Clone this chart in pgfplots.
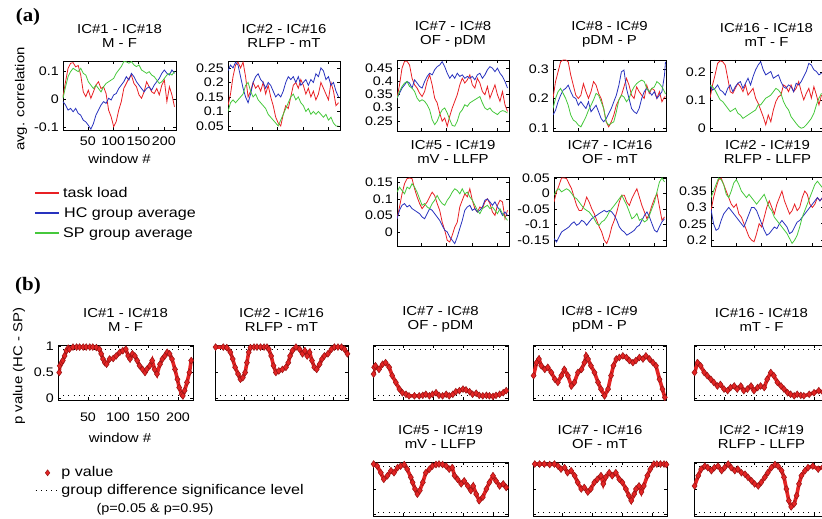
\documentclass[border=0pt]{standalone}
\usepackage{pgfplots}
\pgfplotsset{compat=1.18}
\usepackage{pgfplotstable}
\usepackage{fontspec}
\setmainfont{Liberation Sans}[FakeStretch=1.15]
\newfontfamily\serifb{Liberation Serif}[FakeStretch=1.1]
\definecolor{lr}{RGB}{232,32,36}
\definecolor{lb}{RGB}{40,50,190}
\definecolor{lg}{RGB}{70,200,60}
\definecolor{pr}{RGB}{228,36,36}
\definecolor{pe}{RGB}{150,20,20}
\newcommand\tickfont{\fontsize{12.4}{13}\selectfont}
\newcommand\titfont{\fontsize{13}{14}\selectfont}
\newcommand\legfont{\fontsize{14}{15}\selectfont}

\pgfplotsset{
  pbase/.style={scale only axis, anchor=south west,
    xtick={50,100,150,200}, xticklabels={},
    tick align=inside, tick pos=both, major tick length=3pt,
    major tick style={line width=0.6pt, black},
    axis line style={line width=0.8pt},
    ticklabel style={font=\tickfont},
    yticklabel style={inner sep=1.5pt, xshift=-2.5pt},
    xticklabel style={inner sep=1.5pt, yshift=-5pt},
    /pgf/number format/assume math mode=true,
    title style={font=\titfont, align=center, at={(0.5,1)}, anchor=south, inner sep=0pt, yshift=7pt},
    label style={font=\fontsize{13}{14}\selectfont}},
  pa/.style={pbase, xmin=1, xmax=224},
  pb/.style={pbase, xmin=0, xmax=225, ymin=-0.03, ymax=1.03, ytick={0,0.5,1}, yticklabels={}},
  pv/.style={color=pr, line width=3.6pt, mark=diamond*, mark size=3.4pt,
    mark options={solid, line width=0.5pt, draw=pe, fill=pr}},
  sig/.style={black, line width=0.7pt, dash pattern=on 0.7pt off 4.5pt},
  dlegend/.style={legend image code/.code={\path[mark=diamond*, mark size=3pt, mark options={draw=pe, fill=pr, line width=0.5pt}] plot coordinates {(12pt,0pt)};}},
  slegend/.style={legend image code/.code={\draw[black, line width=0.7pt, dash pattern=on 0.7pt off 4.5pt] (0pt,0pt) -- (24pt,0pt);}},
}

\pgfplotstableread{
w r b g
1 0.009 -0.009 0.003
6 0.062 -0.021 0.044
11 0.11 -0.039 0.08
16 0.128 -0.033 0.098
21 0.13 -0.045 0.11
26 0.115 -0.033 0.104
31 0.12 -0.051 0.098
36 0.086 -0.057 0.11
41 0.026 -0.075 0.092
46 0.009 -0.081 0.086
51 0.032 -0.093 0.062
56 0.003 -0.107 0.05
61 0.026 -0.087 0.038
66 0.05 -0.057 0.05
71 0.062 -0.039 0.038
76 0.038 -0.021 0.026
81 0.044 -0.009 0.044
86 0.02 -0.015 0.056
91 -0.039 0.003 0.062
96 -0.063 -0.003 0.068
101 -0.098 0.015 0.074
106 -0.08 0.02 0.092
111 -0.039 0.038 0.104
116 -0.009 0.05 0.116
121 0.038 0.062 0.134
126 0.056 0.08 0.133
131 0.074 0.068 0.128
136 0.086 0.092 0.134
141 0.056 0.08 0.122
146 0.044 0.062 0.116
151 0.015 0.05 0.122
156 0.003 0.038 0.104
161 0.026 0.026 0.098
166 0.062 0.038 0.092
171 0.044 0.044 0.098
176 0.026 0.032 0.086
181 0.02 0.05 0.08
186 0.038 0.062 0.068
191 0.015 0.074 0.056
196 0.05 0.092 0.062
201 0.068 0.104 0.074
206 -0.009 0.092 0.086
211 0.044 0.086 0.092
216 0.015 0.104 0.086
221 -0.027 0.092 0.098
}\tAa

\pgfplotstableread{
w r b g
1 0.12 0.24 0.10
6 0.16 0.26 0.13
11 0.22 0.25 0.14
16 0.26 0.27 0.13
21 0.27 0.26 0.14
26 0.25 0.22 0.15
31 0.27 0.18 0.16
36 0.22 0.15 0.19
41 0.15 0.13 0.20
46 0.17 0.16 0.17
51 0.20 0.20 0.15
56 0.18 0.22 0.16
61 0.19 0.23 0.14
66 0.17 0.21 0.13
71 0.20 0.20 0.12
76 0.16 0.18 0.11
81 0.19 0.20 0.09
86 0.15 0.19 0.08
91 0.12 0.17 0.07
96 0.08 0.15 0.06
101 0.06 0.16 0.05
106 0.05 0.15 0.07
111 0.09 0.17 0.09
116 0.12 0.20 0.11
121 0.11 0.22 0.13
126 0.15 0.21 0.15
131 0.19 0.22 0.16
136 0.20 0.20 0.14
141 0.18 0.22 0.15
146 0.21 0.19 0.13
151 0.19 0.20 0.12
156 0.16 0.21 0.10
161 0.18 0.19 0.11
166 0.15 0.21 0.09
171 0.17 0.20 0.10
176 0.14 0.23 0.09
181 0.16 0.22 0.10
186 0.20 0.25 0.09
191 0.18 0.24 0.08
196 0.16 0.21 0.09
201 0.14 0.22 0.07
206 0.20 0.19 0.08
211 0.17 0.20 0.06
216 0.12 0.17 0.05
221 0.13 0.15 0.05
}\tAb

\pgfplotstableread{
w r b g
1 0.336 0.336 0.336
6 0.386 0.355 0.361
11 0.449 0.374 0.380
16 0.475 0.386 0.393
21 0.475 0.399 0.399
26 0.461 0.393 0.380
31 0.411 0.374 0.374
36 0.386 0.405 0.361
41 0.374 0.393 0.336
46 0.355 0.380 0.324
51 0.342 0.374 0.330
56 0.361 0.399 0.324
61 0.399 0.418 0.311
66 0.424 0.430 0.292
71 0.386 0.424 0.255
76 0.336 0.443 0.236
81 0.318 0.455 0.249
86 0.280 0.461 0.274
91 0.249 0.474 0.292
96 0.261 0.455 0.299
101 0.230 0.430 0.280
106 0.268 0.411 0.255
111 0.299 0.424 0.233
116 0.324 0.411 0.230
121 0.349 0.430 0.249
126 0.386 0.418 0.280
131 0.411 0.424 0.292
136 0.393 0.411 0.311
141 0.405 0.418 0.305
146 0.424 0.411 0.318
151 0.386 0.418 0.324
156 0.374 0.405 0.330
161 0.411 0.424 0.336
166 0.393 0.430 0.342
171 0.361 0.411 0.318
176 0.349 0.424 0.299
181 0.380 0.443 0.292
186 0.336 0.455 0.299
191 0.361 0.449 0.286
196 0.386 0.436 0.280
201 0.349 0.449 0.274
206 0.324 0.430 0.284
211 0.361 0.418 0.289
216 0.311 0.399 0.286
221 0.286 0.374 0.280
}\tAc

\pgfplotstableread{
w r b g
1 0.200 0.144 0.166
6 0.257 0.160 0.200
11 0.290 0.189 0.223
16 0.324 0.211 0.234
21 0.330 0.228 0.217
26 0.330 0.234 0.200
31 0.324 0.245 0.177
36 0.279 0.223 0.144
41 0.245 0.205 0.127
46 0.211 0.200 0.121
51 0.200 0.177 0.110
56 0.211 0.189 0.104
61 0.250 0.177 0.121
66 0.223 0.166 0.138
71 0.200 0.189 0.160
76 0.223 0.155 0.177
81 0.257 0.166 0.195
86 0.245 0.177 0.217
91 0.217 0.155 0.211
96 0.200 0.132 0.189
101 0.166 0.121 0.166
106 0.121 0.132 0.121
111 0.104 0.149 0.110
116 0.121 0.166 0.116
121 0.144 0.189 0.121
126 0.177 0.211 0.155
131 0.195 0.245 0.195
136 0.211 0.290 0.211
141 0.239 0.296 0.205
146 0.268 0.234 0.189
151 0.245 0.200 0.200
156 0.211 0.166 0.223
161 0.200 0.155 0.239
166 0.239 0.149 0.250
171 0.223 0.166 0.257
176 0.211 0.200 0.262
181 0.200 0.223 0.257
186 0.245 0.234 0.234
191 0.217 0.223 0.223
196 0.234 0.211 0.234
201 0.228 0.223 0.239
206 0.200 0.200 0.257
211 0.223 0.211 0.250
216 0.189 0.223 0.239
221 0.205 0.279 0.223
223 0.205 0.324 0.215
}\tAd

\pgfplotstableread{
w r b g
1 0.107 0.154 0.154
6 0.154 0.136 0.148
11 0.190 0.142 0.136
16 0.231 0.154 0.118
21 0.240 0.136 0.101
26 0.237 0.130 0.095
31 0.225 0.118 0.083
36 0.178 0.142 0.071
41 0.130 0.154 0.059
46 0.124 0.130 0.065
51 0.142 0.148 0.071
56 0.160 0.160 0.053
61 0.148 0.166 0.047
66 0.130 0.142 0.035
71 0.154 0.160 0.041
76 0.118 0.178 0.047
81 0.130 0.154 0.053
86 0.142 0.184 0.059
91 0.107 0.208 0.065
96 0.089 0.225 0.083
101 0.065 0.237 0.083
106 0.041 0.208 0.095
111 0.012 0.190 0.107
116 0.047 0.196 0.112
121 0.023 0.202 0.118
126 0.065 0.178 0.130
131 0.095 0.184 0.142
136 0.112 0.190 0.136
141 0.118 0.166 0.124
146 0.154 0.148 0.095
151 0.148 0.142 0.077
156 0.130 0.154 0.065
161 0.154 0.148 0.041
166 0.130 0.130 0.029
171 0.142 0.160 0.017
176 0.166 0.154 0.006
181 0.130 0.166 0.000
186 0.101 0.184 0.003
191 0.124 0.202 0.012
196 0.142 0.231 0.023
201 0.107 0.225 0.035
206 0.148 0.208 0.053
211 0.118 0.202 0.083
216 0.083 0.190 0.107
221 0.118 0.196 0.124
}\tAe

\pgfplotstableread{
w r b g
1 0.041 0.041 0.120
6 0.076 0.066 0.135
11 0.115 0.081 0.125
16 0.145 0.086 0.115
21 0.160 0.076 0.135
26 0.162 0.081 0.130
31 0.160 0.071 0.145
36 0.130 0.066 0.135
41 0.106 0.061 0.120
46 0.086 0.056 0.100
51 0.071 0.046 0.081
56 0.081 0.041 0.086
61 0.091 0.056 0.076
66 0.106 0.071 0.071
71 0.120 0.066 0.086
76 0.110 0.056 0.096
81 0.086 0.046 0.110
86 0.066 0.036 0.096
91 0.031 0.021 0.086
96 0.007 0.007 0.081
101 -0.023 0.002 0.096
106 -0.028 -0.013 0.106
111 -0.008 -0.023 0.120
116 0.016 -0.033 0.130
121 0.031 -0.013 0.125
126 0.076 0.012 0.115
131 0.096 0.036 0.130
136 0.115 0.066 0.115
141 0.106 0.076 0.120
146 0.130 0.081 0.106
151 0.096 0.066 0.096
156 0.071 0.071 0.081
161 0.061 0.061 0.066
166 0.076 0.066 0.056
171 0.071 0.076 0.071
176 0.091 0.096 0.076
181 0.100 0.100 0.081
186 0.086 0.091 0.071
191 0.061 0.081 0.076
196 0.051 0.091 0.066
201 0.081 0.076 0.056
206 0.096 0.066 0.071
211 0.091 0.051 0.056
216 0.041 0.061 0.046
221 0.066 0.051 0.036
}\tAf

\pgfplotstableread{
w r b g
1 -0.028 -0.146 -0.006
6 0.005 -0.157 0.010
11 0.026 -0.141 0.015
16 0.050 -0.125 0.005
21 0.050 -0.119 0.010
26 0.048 -0.114 0.015
31 0.031 -0.108 0.010
36 0.015 -0.098 0.000
41 -0.012 -0.092 -0.012
46 -0.039 -0.103 -0.017
51 -0.055 -0.098 -0.028
56 -0.055 -0.087 -0.039
61 -0.039 -0.092 -0.049
66 -0.012 -0.103 -0.055
71 -0.028 -0.092 -0.060
76 -0.049 -0.082 -0.071
81 -0.065 -0.076 -0.082
86 -0.087 -0.071 -0.098
91 -0.108 -0.065 -0.103
96 -0.125 -0.060 -0.092
101 -0.151 -0.055 -0.087
106 -0.162 -0.060 -0.076
111 -0.141 -0.055 -0.060
116 -0.108 -0.060 -0.049
121 -0.087 -0.071 -0.039
126 -0.060 -0.087 -0.028
131 -0.028 -0.108 -0.017
136 -0.006 -0.119 -0.006
141 -0.006 -0.125 -0.023
146 -0.028 -0.135 -0.039
151 -0.039 -0.130 -0.060
156 -0.017 -0.125 -0.082
161 0.000 -0.119 -0.076
166 0.015 -0.108 -0.065
171 -0.012 -0.103 -0.087
176 -0.039 -0.087 -0.082
181 -0.060 -0.071 -0.092
186 -0.082 -0.060 -0.087
191 -0.065 -0.076 -0.071
196 -0.039 -0.098 -0.049
201 -0.017 -0.119 -0.028
206 0.000 -0.125 0.005
211 -0.044 -0.108 0.037
216 -0.087 -0.092 0.050
221 -0.076 -0.082 0.037
}\tAg

\pgfplotstableread{
w r b g
1 0.29 0.295 0.33
6 0.33 0.25 0.35
11 0.36 0.23 0.37
16 0.385 0.235 0.39
21 0.39 0.26 0.385
26 0.37 0.28 0.37
31 0.35 0.29 0.34
36 0.33 0.30 0.33
41 0.31 0.29 0.35
46 0.30 0.28 0.375
51 0.31 0.27 0.385
56 0.28 0.26 0.37
61 0.27 0.25 0.35
66 0.25 0.24 0.34
71 0.23 0.26 0.33
76 0.21 0.28 0.34
81 0.20 0.30 0.33
86 0.195 0.30 0.32
91 0.22 0.29 0.31
96 0.25 0.27 0.32
101 0.24 0.25 0.33
106 0.27 0.23 0.34
111 0.30 0.215 0.32
116 0.32 0.22 0.30
121 0.30 0.23 0.29
126 0.28 0.24 0.27
131 0.31 0.235 0.26
136 0.33 0.25 0.25
141 0.35 0.26 0.24
146 0.32 0.25 0.23
151 0.30 0.24 0.22
156 0.28 0.22 0.205
161 0.29 0.225 0.19
166 0.31 0.24 0.20
171 0.29 0.255 0.215
176 0.30 0.26 0.24
181 0.33 0.27 0.27
186 0.35 0.28 0.29
191 0.34 0.29 0.31
196 0.31 0.30 0.33
201 0.30 0.31 0.35
206 0.31 0.32 0.37
211 0.33 0.33 0.38
216 0.32 0.32 0.37
221 0.33 0.33 0.36
}\tAh

\pgfplotstableread{
w p
2 0.50
3 0.63
6 0.69
8 0.73
11 0.82
14 0.92
17 0.97
19 0.95
25 0.99
31 0.99
36 0.99
42 0.99
47 0.99
53 0.99
58 0.99
64 0.98
69 0.95
72 0.86
75 0.76
78 0.69
81 0.66
86 0.76
92 0.77
97 0.82
103 0.89
108 0.92
113 0.95
117 0.82
120 0.76
124 0.86
128 0.82
132 0.73
136 0.63
141 0.56
145 0.50
148 0.56
153 0.63
157 0.73
161 0.56
165 0.47
170 0.66
174 0.76
178 0.82
182 0.89
186 0.86
190 0.76
195 0.56
199 0.37
202 0.21
206 0.08
208 0.05
211 0.15
215 0.31
219 0.50
222 0.73
}\tBa

\pgfplotstableread{
w p
1 0.99
14 0.99
20 0.98
26 0.89
30 0.76
34 0.60
39 0.47
43 0.37
47 0.40
51 0.50
54 0.69
57 0.89
60 0.98
66 0.99
71 0.99
77 0.99
83 0.99
88 0.99
91 0.95
95 0.82
99 0.63
103 0.50
108 0.53
114 0.56
120 0.60
124 0.69
127 0.82
131 0.92
137 0.99
143 0.95
148 0.86
152 0.92
156 0.82
160 0.89
164 0.73
168 0.60
172 0.56
177 0.66
181 0.76
185 0.82
191 0.86
197 0.95
202 0.99
208 0.99
214 0.99
219 0.95
224 0.86
}\tBb

\pgfplotstableread{
w p
1 0.47
2 0.60
4 0.63
10 0.56
16 0.66
21 0.69
27 0.60
32 0.44
38 0.31
44 0.18
49 0.11
55 0.08
60 0.05
69 0.05
77 0.05
83 0.06
88 0.08
94 0.05
99 0.08
105 0.11
110 0.06
116 0.05
122 0.08
127 0.05
133 0.08
138 0.13
144 0.15
150 0.18
155 0.165
161 0.13
166 0.08
172 0.10
177 0.06
183 0.05
189 0.06
194 0.05
200 0.04
205 0.06
211 0.08
217 0.11
222 0.15
}\tBc

\pgfplotstableread{
w p
1 0.44
6 0.69
10 0.76
14 0.63
20 0.56
25 0.60
31 0.50
37 0.37
42 0.31
48 0.44
53 0.56
59 0.44
65 0.24
70 0.31
76 0.50
82 0.56
87 0.69
90 0.82
93 0.76
98 0.63
104 0.50
110 0.31
115 0.18
121 0.05
127 0.18
132 0.44
136 0.63
141 0.76
146 0.79
152 0.82
158 0.79
163 0.73
169 0.69
174 0.73
180 0.79
186 0.76
191 0.82
197 0.76
203 0.69
208 0.63
214 0.37
219 0.18
223 0.02
}\tBd

\pgfplotstableread{
w p
1 0.50
6 0.69
11 0.63
17 0.50
22 0.44
28 0.37
33 0.31
39 0.24
44 0.27
50 0.18
56 0.15
61 0.21
67 0.24
72 0.18
78 0.24
83 0.15
89 0.18
95 0.24
100 0.15
106 0.21
111 0.24
117 0.21
122 0.37
128 0.50
133 0.44
139 0.31
145 0.24
150 0.18
156 0.11
161 0.08
167 0.05
172 0.08
178 0.06
183 0.05
192 0.08
200 0.11
208 0.15
215 0.12
222 0.10
}\tBe

\pgfplotstableread{
w p
1 0.99
7 0.95
13 0.82
18 0.69
24 0.76
30 0.86
35 0.82
41 0.92
46 0.95
52 0.98
57 0.89
63 0.73
66 0.63
70 0.50
74 0.40
78 0.47
83 0.63
88 0.82
94 0.89
99 0.95
105 0.98
110 0.99
116 0.98
122 0.95
127 0.89
132 0.92
136 0.76
141 0.69
147 0.60
152 0.66
158 0.56
163 0.47
167 0.56
172 0.40
177 0.27
183 0.34
189 0.50
194 0.63
200 0.76
205 0.66
211 0.56
217 0.60
222 0.53
}\tBf

\pgfplotstableread{
w p
3 0.99
11 0.99
19 0.99
28 0.98
36 0.99
42 0.95
47 0.89
53 0.92
58 0.82
64 0.86
70 0.76
75 0.63
81 0.50
86 0.53
92 0.44
97 0.50
103 0.63
108 0.69
114 0.76
118 0.60
122 0.73
128 0.82
133 0.76
139 0.82
145 0.69
150 0.63
156 0.50
161 0.37
165 0.27
170 0.40
173 0.50
178 0.56
182 0.44
186 0.56
192 0.76
197 0.89
203 0.99
208 0.99
214 0.99
220 0.99
224 0.98
}\tBg

\pgfplotstableread{
w p
1 0.56
7 0.76
12 0.89
18 0.95
23 0.92
29 0.86
34 0.92
40 0.95
46 0.86
51 0.92
57 0.99
62 0.92
68 0.86
73 0.89
79 0.82
85 0.79
90 0.73
96 0.66
101 0.60
107 0.56
112 0.63
118 0.73
123 0.82
129 0.92
135 0.98
140 0.95
146 0.86
150 0.73
154 0.50
158 0.27
162 0.15
167 0.21
171 0.37
175 0.60
179 0.76
185 0.86
190 0.92
198 0.95
207 0.89
215 0.93
222 0.90
}\tBh

\begin{document}
\begin{tikzpicture}
\useasboundingbox (0pt,0pt) rectangle (822pt,519pt);
\clip (0pt,0pt) rectangle (822pt,519pt);

% ---------- (a) ----------
\node[font=\serifb\bfseries\fontsize{19}{20}\selectfont, anchor=center] at (28pt,502pt) {(a)};
\node[font=\fontsize{13}{14}\selectfont, rotate=90] at (21pt,420pt) {avg. correlation};
\node[font=\legfont, anchor=base west, inner sep=0pt] at (63pt,321pt) {task load};
\node[font=\legfont, anchor=base west, inner sep=0pt] at (64pt,301pt) {HC group average};
\node[font=\legfont, anchor=base west, inner sep=0pt] at (63pt,281pt) {SP group average};

\begin{axis}[pa, at={(63pt,389pt)}, width=113pt, height=69pt, clip=false,
  ymin=-0.11, ymax=0.136, ytick={-0.1,0,0.1}, yticklabels={-0.1,0,0.1},
  xticklabels={50,100,150,200}, xlabel={window \#},
  xlabel style={at={(axis description cs:0.5,0)}, anchor=north, inner sep=0pt, yshift=-24pt},
  title={IC\#1 - IC\#18\\M - F}]
\addplot[color=lr, line width=0.8pt] table[x=w,y=r]{\tAa};
\addplot[color=lb, line width=0.8pt] table[x=w,y=b]{\tAa};
\addplot[color=lg, line width=0.8pt] table[x=w,y=g]{\tAa};
% legend keys (lines drawn in axis coordinates, outside the box)
\addplot[draw=lr, line width=1.5pt] coordinates {(-54,-0.335) (-7,-0.335)};
\addplot[draw=lb, line width=1.5pt] coordinates {(-54,-0.406) (-7,-0.406)};
\addplot[draw=lg, line width=1.5pt] coordinates {(-54,-0.477) (-7,-0.477)};
\end{axis}

\begin{axis}[pa, at={(228pt,389pt)}, width=112pt, height=69pt,
  ymin=0.036, ymax=0.274, ytick={0.05,0.1,0.15,0.2,0.25}, yticklabels={0.05,0.1,0.15,0.2,0.25},
  title={IC\#2 - IC\#16\\RLFP - mT}]
\addplot[color=lr, line width=0.8pt] table[x=w,y=r]{\tAb};
\addplot[color=lb, line width=0.8pt] table[x=w,y=b]{\tAb};
\addplot[color=lg, line width=0.8pt] table[x=w,y=g]{\tAb};
\end{axis}

\begin{axis}[pa, at={(397pt,388pt)}, width=112pt, height=71pt,
  ymin=0.212, ymax=0.48, ytick={0.25,0.3,0.35,0.4,0.45}, yticklabels={0.25,0.3,0.35,0.4,0.45},
  title={IC\#7 - IC\#8\\OF - pDM}]
\addplot[color=lr, line width=0.8pt] table[x=w,y=r]{\tAc};
\addplot[color=lb, line width=0.8pt] table[x=w,y=b]{\tAc};
\addplot[color=lg, line width=0.8pt] table[x=w,y=g]{\tAc};
\end{axis}

\begin{axis}[pa, at={(553pt,388pt)}, width=113pt, height=71pt,
  ymin=0.09, ymax=0.33, ytick={0.1,0.2,0.3}, yticklabels={0.1,0.2,0.3},
  title={IC\#8 - IC\#9\\pDM - P}]
\addplot[color=lr, line width=0.8pt] table[x=w,y=r]{\tAd};
\addplot[color=lb, line width=0.8pt] table[x=w,y=b]{\tAd};
\addplot[color=lg, line width=0.8pt] table[x=w,y=g]{\tAd};
\end{axis}

\begin{axis}[pa, at={(710pt,388pt)}, width=113pt, height=71pt,
  ymin=-0.01, ymax=0.243, ytick={0,0.1,0.2}, yticklabels={0,0.1,0.2},
  title={IC\#16 - IC\#18\\mT - F}]
\addplot[color=lr, line width=0.8pt] table[x=w,y=r]{\tAe};
\addplot[color=lb, line width=0.8pt] table[x=w,y=b]{\tAe};
\addplot[color=lg, line width=0.8pt] table[x=w,y=g]{\tAe};
\end{axis}

\begin{axis}[pa, at={(397pt,273pt)}, width=112pt, height=69pt,
  ymin=-0.04, ymax=0.165, ytick={0,0.05,0.1,0.15}, yticklabels={0,0.05,0.1,0.15},
  title={IC\#5 - IC\#19\\mV - LLFP}]
\addplot[color=lr, line width=0.8pt] table[x=w,y=r]{\tAf};
\addplot[color=lb, line width=0.8pt] table[x=w,y=b]{\tAf};
\addplot[color=lg, line width=0.8pt] table[x=w,y=g]{\tAf};
\end{axis}

\begin{axis}[pa, at={(554pt,273pt)}, width=112pt, height=69pt,
  ymin=-0.17, ymax=0.053, ytick={-0.15,-0.1,-0.05,0,0.05}, yticklabels={-0.15,-0.1,-0.05,0,0.05},
  title={IC\#7 - IC\#16\\OF - mT}]
\addplot[color=lr, line width=0.8pt] table[x=w,y=r]{\tAg};
\addplot[color=lb, line width=0.8pt] table[x=w,y=b]{\tAg};
\addplot[color=lg, line width=0.8pt] table[x=w,y=g]{\tAg};
\end{axis}

\begin{axis}[pa, at={(711pt,273pt)}, width=113pt, height=69pt,
  ymin=0.182, ymax=0.393, ytick={0.2,0.25,0.3,0.35}, yticklabels={0.2,0.25,0.3,0.35},
  title={IC\#2 - IC\#19\\RLFP - LLFP}]
\addplot[color=lr, line width=0.8pt] table[x=w,y=r]{\tAh};
\addplot[color=lb, line width=0.8pt] table[x=w,y=b]{\tAh};
\addplot[color=lg, line width=0.8pt] table[x=w,y=g]{\tAh};
\end{axis}

% ---------- (b) ----------
\node[font=\serifb\bfseries\fontsize{19}{20}\selectfont, anchor=center] at (28pt,233pt) {(b)};
\node[font=\fontsize{13}{14}\selectfont, rotate=90] at (19pt,153pt) {p value (HC - SP)};
\node[font=\fontsize{12.6}{14}\selectfont] at (155pt,10pt) {(p=0.05 \& p=0.95)};

\begin{axis}[pb, at={(58pt,119pt)}, width=135pt, height=55pt,
  yticklabels={0,0.5,1}, xticklabels={50,100,150,200}, xlabel={window \#},
  xticklabel style={yshift=-6pt},
  xlabel style={at={(axis description cs:0.46,0)}, anchor=north, inner sep=0pt, yshift=-33pt},
  title={IC\#1 - IC\#18\\M - F},
  legend style={at={(axis description cs:-0.17,-1.175)}, anchor=north west, draw=none, fill=none,
    font=\legfont, inner sep=0pt, row sep=2pt, nodes={inner sep=1.5pt, text height=10pt, text depth=3pt}},
  legend cell align=left]
\addplot[sig, forget plot] coordinates {(0,0.05) (225,0.05)};
\addplot[sig, forget plot] coordinates {(0,0.95) (225,0.95)};
\addplot[pv, forget plot] table[x=w,y=p]{\tBa};
\addlegendimage{dlegend}
\addlegendentry{p value}
\addlegendimage{slegend}
\addlegendentry{group difference significance level}
\end{axis}

\begin{axis}[pb, at={(215pt,119pt)}, width=133pt, height=55pt, title={IC\#2 - IC\#16\\RLFP - mT}]
\addplot[sig] coordinates {(0,0.05) (225,0.05)};
\addplot[sig] coordinates {(0,0.95) (225,0.95)};
\addplot[pv] table[x=w,y=p]{\tBb};
\end{axis}

\begin{axis}[pb, at={(373pt,119pt)}, width=135pt, height=55pt, title={IC\#7 - IC\#8\\OF - pDM}]
\addplot[sig] coordinates {(0,0.05) (225,0.05)};
\addplot[sig] coordinates {(0,0.95) (225,0.95)};
\addplot[pv] table[x=w,y=p]{\tBc};
\end{axis}

\begin{axis}[pb, at={(533pt,119pt)}, width=133pt, height=55pt, title={IC\#8 - IC\#9\\pDM - P}]
\addplot[sig] coordinates {(0,0.05) (225,0.05)};
\addplot[sig] coordinates {(0,0.95) (225,0.95)};
\addplot[pv] table[x=w,y=p]{\tBd};
\end{axis}

\begin{axis}[pb, at={(694pt,119pt)}, width=135pt, height=55pt, title={IC\#16 - IC\#18\\mT - F}]
\addplot[sig] coordinates {(0,0.05) (225,0.05)};
\addplot[sig] coordinates {(0,0.95) (225,0.95)};
\addplot[pv] table[x=w,y=p]{\tBe};
\end{axis}

\begin{axis}[pb, at={(373pt,3pt)}, width=135pt, height=54pt, title={IC\#5 - IC\#19\\mV - LLFP}]
\addplot[sig] coordinates {(0,0.05) (225,0.05)};
\addplot[sig] coordinates {(0,0.95) (225,0.95)};
\addplot[pv] table[x=w,y=p]{\tBf};
\end{axis}

\begin{axis}[pb, at={(533pt,3pt)}, width=134pt, height=54pt, title={IC\#7 - IC\#16\\OF - mT}]
\addplot[sig] coordinates {(0,0.05) (225,0.05)};
\addplot[sig] coordinates {(0,0.95) (225,0.95)};
\addplot[pv] table[x=w,y=p]{\tBg};
\end{axis}

\begin{axis}[pb, at={(694pt,3pt)}, width=135pt, height=54pt, title={IC\#2 - IC\#19\\RLFP - LLFP}]
\addplot[sig] coordinates {(0,0.05) (225,0.05)};
\addplot[sig] coordinates {(0,0.95) (225,0.95)};
\addplot[pv] table[x=w,y=p]{\tBh};
\end{axis}
\end{tikzpicture}
\end{document}
